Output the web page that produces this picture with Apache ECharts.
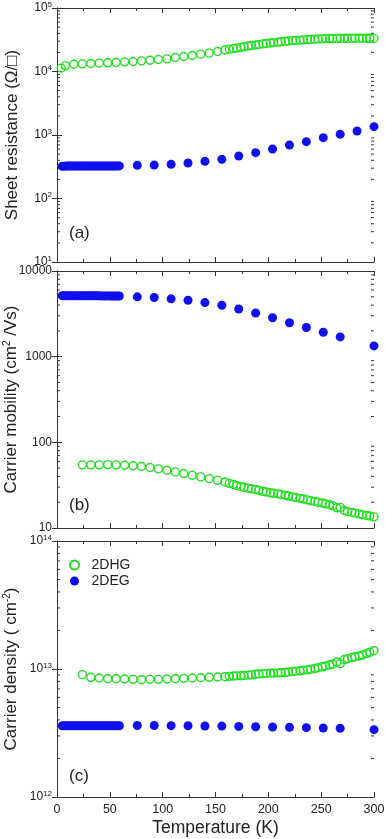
<!DOCTYPE html>
<html>
<head>
<meta charset="utf-8">
<script src="https://cdn.jsdelivr.net/npm/echarts@6/dist/echarts.min.js"></script>
<style>
  html, body { margin: 0; padding: 0; background: #fff; }
  #chart { width: 385px; height: 839px; }
</style>
</head>
<body>
<div id="chart"></div>
<script>
// temperatures (K)
var tEdgA = [5, 7, 9, 11, 13, 15, 17, 19, 21, 23, 25, 27, 29, 31, 33, 35, 37, 39, 41, 43, 45, 47, 49, 51, 53, 55, 57, 59,
  76, 92, 108, 124, 140, 156, 172, 188, 204, 220, 236, 252, 268, 284, 300];
var tEdgBC = [5, 7, 9, 11, 13, 15, 17, 19, 21, 23, 25, 27, 29, 31, 33, 35, 37, 39, 41, 43, 45, 47, 49, 51, 53, 55, 57, 59,
  76, 92, 108, 124, 140, 156, 172, 188, 204, 220, 236, 252, 268, 300];
var tHgA = [4, 8, 16, 24, 32, 40, 48, 56, 64, 72, 80, 88, 96, 104, 112, 120, 128, 136, 144, 152,
  159, 163, 167, 170, 174, 177, 181, 184, 188, 191, 195, 198, 202, 205, 209, 212, 216, 219, 223, 226,
  230, 233, 237, 240, 244, 247, 251, 254, 258, 261, 265, 268, 272, 275, 279, 282, 286, 289, 293, 296, 300];
var tHgBC = [24, 32, 40, 48, 56, 64, 72, 80, 88, 96, 104, 112, 120, 128, 136, 144, 152,
  159, 163, 167, 170, 174, 177, 181, 184, 188, 191, 195, 198, 202, 205, 209, 212, 216, 219, 223, 226,
  230, 233, 237, 240, 244, 247, 251, 254, 258, 261, 265, 268, 272, 275, 279, 282, 286, 289, 293, 296, 300];

// (a) sheet resistance (Ohm/sq)
var rsEdg = [322, 323, 324, 325, 325, 325, 325, 325, 325, 325, 325, 325, 325, 325, 325, 325, 325, 325, 325, 325, 325, 325, 325, 325, 325, 325, 325, 326,
  333, 336, 345, 362, 385, 414, 467, 527, 603, 697, 785, 908, 1024, 1155, 1352];
var rsHg = [11300, 12280, 13030, 13190, 13360, 13530, 13700, 13870, 14200, 14380, 14720, 15070, 15440, 15810, 16600, 17210, 17860, 18750, 19450, 20650,
  21800, 22400, 22900, 23400, 24000, 24500, 25200, 25700, 26200, 26700, 27200, 27600, 28100, 28500, 29000, 29400, 29800, 30200, 30600, 30900,
  31200, 31500, 31800, 32000, 32300, 32500, 32700, 32900, 33000, 33100, 33200, 33300, 33300, 33400, 33400, 33400, 33400, 33400, 33300, 33300, 33200];

// (b) carrier mobility (cm2/Vs)
var muEdg = [5150, 5140, 5140, 5130, 5130, 5130, 5130, 5130, 5130, 5130, 5130, 5130, 5130, 5130, 5130, 5130, 5130, 5130, 5120, 5120, 5120, 5120, 5120, 5110, 5110, 5100, 5100, 5100,
  4990, 4900, 4730, 4560, 4280, 3980, 3600, 3236, 2850, 2490, 2190, 1930, 1700, 1335];
var muHg = [54.6, 54.6, 54.6, 55, 54.6, 54, 53.2, 52.2, 50.8, 49, 47.3, 45.2, 43.2, 41.3, 39.5, 37.7, 36,
  34.4, 33.2, 32.2, 31.3, 30.4, 29.9, 29.2, 28.7, 28.1, 27.5, 26.8, 26.3, 25.8, 25.4, 25.0, 24.6, 24.1, 23.6, 23.1, 22.7,
  22.2, 21.8, 21.3, 20.8, 20.4, 20.0, 19.6, 19.2, 18.7, 18.2, 17.2, 17.4, 16.0, 15.5, 15.2, 14.9, 14.6, 14.3, 14.0, 13.8, 13.5];

// (c) carrier density (cm-2)
var nEdg = [3.6e12, 3.6e12, 3.6e12, 3.6e12, 3.6e12, 3.6e12, 3.6e12, 3.6e12, 3.6e12, 3.6e12, 3.6e12, 3.6e12, 3.6e12, 3.6e12, 3.6e12, 3.6e12, 3.6e12, 3.6e12, 3.6e12, 3.6e12, 3.6e12, 3.6e12, 3.6e12, 3.6e12, 3.6e12, 3.6e12, 3.6e12, 3.6e12,
  3.62e12, 3.62e12, 3.61e12, 3.6e12, 3.59e12, 3.58e12, 3.56e12, 3.54e12, 3.52e12, 3.5e12, 3.48e12, 3.46e12, 3.44e12, 3.36e12];
var nHg = [9.03e12, 8.61e12, 8.5e12, 8.4e12, 8.4e12, 8.35e12, 8.3e12, 8.25e12, 8.3e12, 8.3e12, 8.35e12, 8.4e12, 8.45e12, 8.5e12, 8.55e12, 8.61e12, 8.66e12,
  8.71e12, 8.76e12, 8.82e12, 8.84e12, 8.86e12, 8.9e12, 8.95e12, 9.0e12, 9.1e12, 9.15e12, 9.2e12, 9.25e12, 9.28e12, 9.3e12, 9.33e12, 9.35e12, 9.4e12, 9.47e12, 9.55e12, 9.62e12,
  9.7e12, 9.77e12, 9.85e12, 9.95e12, 1.01e13, 1.022e13, 1.04e13, 1.055e13, 1.075e13, 1.095e13, 1.135e13, 1.10e13, 1.185e13, 1.205e13, 1.23e13, 1.245e13, 1.265e13, 1.285e13, 1.32e13, 1.35e13, 1.39e13];

// log axis ranges [min, max]
var rangeA = [1e1, 1e5];
var rangeB = [1e1, 1e4];
var rangeC = [1e12, 1e14];

var GREEN = '#22dd22';
var BLUE = '#1010ee';
var AXIS = '#333';
var FONT = 'Liberation Sans, Arial, sans-serif';

function zip(xs, ys) {
  return xs.map(function (x, i) { return [x, ys[i]]; });
}

function minorTicks(range) {
  var out = [];
  var lo = Math.round(Math.log10(range[0]));
  var hi = Math.round(Math.log10(range[1]));
  for (var d = lo; d < hi; d++) {
    for (var k = 2; k <= 9; k++) out.push([0, k * Math.pow(10, d)]);
  }
  return out;
}

var grids = [
  { left: 57, top: 8, width: 317, height: 254, outerBoundsMode: 'none', containLabel: false },
  { left: 57, top: 271, width: 317, height: 257, outerBoundsMode: 'none', containLabel: false },
  { left: 57, top: 541, width: 317, height: 256, outerBoundsMode: 'none', containLabel: false }
];

function xAx(gi, pos, showLabel) {
  return {
    type: 'value', gridIndex: gi, position: pos, min: 0, max: 300, interval: 50,
    axisLine: { show: true, lineStyle: { color: AXIS, width: 1 } },
    axisTick: { show: true, inside: true, length: 5, lineStyle: { color: AXIS } },
    minorTick: { show: true, splitNumber: 2, length: 3, lineStyle: { color: AXIS } },
    axisLabel: { show: showLabel, fontSize: 12.5, color: '#222', margin: 6, fontFamily: FONT },
    splitLine: { show: false },
    name: showLabel ? 'Temperature (K)' : '',
    nameLocation: 'middle', nameGap: 22, nameMoveOverlap: false,
    nameTextStyle: { fontSize: 17.5, color: '#222', fontFamily: FONT }
  };
}

var supRich = { s: { fontSize: 8, padding: [0, 0, 7, 0], color: '#222', fontFamily: FONT } };
var nameRich = { s: { fontSize: 10, padding: [0, 0, 9, 0], color: '#222', fontFamily: FONT } };

function powLabel(v) {
  return '10{s|' + Math.round(Math.log10(v)) + '}';
}
function plainLabel(v) {
  return String(Math.round(v));
}

function yAx(gi, pos, range, fmt, name) {
  var left = pos === 'left';
  return {
    type: 'log', logBase: 10, gridIndex: gi, position: pos, min: range[0], max: range[1],
    axisLine: { show: true, lineStyle: { color: AXIS, width: 1 } },
    axisTick: { show: true, inside: true, length: 5, lineStyle: { color: AXIS } },
    minorTick: { show: false },
    axisLabel: { show: left, formatter: fmt, fontSize: 12, color: '#222', margin: 5, fontFamily: FONT, rich: supRich },
    splitLine: { show: false },
    name: left ? name : '',
    nameLocation: 'middle', nameGap: 36, nameMoveOverlap: false,
    nameTextStyle: { fontSize: 17, color: '#222', fontFamily: FONT, rich: nameRich }
  };
}

function minorSeries(gi, range) {
  return {
    type: 'custom', xAxisIndex: gi * 2, yAxisIndex: gi * 2, silent: true, clip: false,
    data: minorTicks(range),
    encode: { x: 0, y: 1 },
    renderItem: function (params, api) {
      var v = api.value(1);
      var p = api.coord([0, v]);
      var q = api.coord([300, v]);
      var st = { stroke: AXIS, lineWidth: 1 };
      return {
        type: 'group', children: [
          { type: 'line', shape: { x1: p[0], y1: p[1], x2: p[0] + 3, y2: p[1] }, style: st },
          { type: 'line', shape: { x1: q[0] - 3, y1: q[1], x2: q[0], y2: q[1] }, style: st }
        ]
      };
    }
  };
}

function hg(gi, data) {
  return {
    name: '2DHG', type: 'scatter', xAxisIndex: gi * 2, yAxisIndex: gi * 2,
    symbol: 'circle', symbolSize: 8, data: data,
    itemStyle: { color: 'rgba(255,255,255,0)', borderColor: GREEN, borderWidth: 1.4, opacity: 1 }
  };
}
function eg(gi, data) {
  return {
    name: '2DEG', type: 'scatter', xAxisIndex: gi * 2, yAxisIndex: gi * 2,
    symbol: 'circle', symbolSize: 9, data: data,
    itemStyle: { color: BLUE, opacity: 1 }
  };
}

var chart = echarts.init(document.getElementById('chart'));
chart.setOption({
  animation: false,
  textStyle: { fontFamily: FONT },
  title: [
    { text: '(a)', left: 69, top: 225, padding: 0, textStyle: { fontSize: 17, fontWeight: 'normal', color: '#222', fontFamily: FONT } },
    { text: '(b)', left: 69, top: 497, padding: 0, textStyle: { fontSize: 17, fontWeight: 'normal', color: '#222', fontFamily: FONT } },
    { text: '(c)', left: 69, top: 768, padding: 0, textStyle: { fontSize: 17, fontWeight: 'normal', color: '#222', fontFamily: FONT } }
  ],
  legend: {
    data: ['2DHG', '2DEG'], orient: 'vertical', left: 69, top: 558,
    itemWidth: 24, itemHeight: 9, itemGap: 2, padding: 0,
    textStyle: { fontSize: 14, color: '#222', fontFamily: FONT }
  },
  grid: grids,
  xAxis: [
    xAx(0, 'bottom', false), xAx(0, 'top', false),
    xAx(1, 'bottom', false), xAx(1, 'top', false),
    xAx(2, 'bottom', true), xAx(2, 'top', false)
  ],
  yAxis: [
    yAx(0, 'left', rangeA, powLabel, 'Sheet resistance (\u03A9/\u25A1)'), yAx(0, 'right', rangeA, powLabel, ''),
    yAx(1, 'left', rangeB, plainLabel, 'Carrier mobility (cm{s|2} /Vs)'), yAx(1, 'right', rangeB, plainLabel, ''),
    yAx(2, 'left', rangeC, powLabel, 'Carrier density ( cm{s|-2})'), yAx(2, 'right', rangeC, powLabel, '')
  ],
  series: [
    minorSeries(0, rangeA), minorSeries(1, rangeB), minorSeries(2, rangeC),
    hg(0, zip(tHgA, rsHg)), eg(0, zip(tEdgA, rsEdg)),
    hg(1, zip(tHgBC, muHg)), eg(1, zip(tEdgBC, muEdg)),
    hg(2, zip(tHgBC, nHg)), eg(2, zip(tEdgBC, nEdg))
  ]
});
</script>
</body>
</html>
